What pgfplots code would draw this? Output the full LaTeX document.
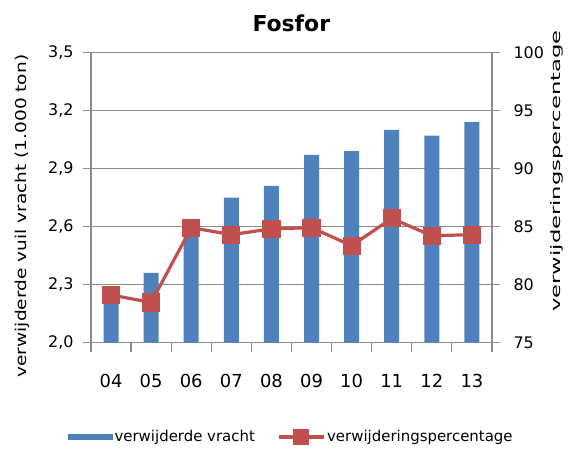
\documentclass[border=0pt]{standalone}
\usepackage{pgfplots}
\pgfplotsset{compat=1.18}
\usepackage{fontspec}
\setmainfont{DejaVu Sans}
\definecolor{barblue}{HTML}{4F81BD}
\definecolor{linered}{HTML}{C0504D}
\definecolor{gridgray}{HTML}{8C8C8C}
\begin{document}
\begin{tikzpicture}
\useasboundingbox (-91bp,-107.5bp) rectangle (483bp,342.5bp);
\begin{axis}[
  at={(0,0)}, anchor=south west,
  scale only axis, width=401bp, height=290bp,
  clip=false,
  xmin=-0.5, xmax=9.5, ymin=2, ymax=3.5,
  ytick={2,2.3,2.6,2.9,3.2,3.5},
  /pgf/number format/.cd, use comma, fixed, fixed zerofill, precision=1, assume math mode=true,
  /pgfplots/.cd,
  xtick={0,1,2,3,4,5,6,7,8,9},
  xticklabels={04,05,06,07,08,09,10,11,12,13},
  x tick style={draw=none},
  extra x ticks={-0.5,0.5,1.5,2.5,3.5,4.5,5.5,6.5,7.5,8.5,9.5},
  extra x tick labels={},
  extra x tick style={x tick style={draw=gridgray, line width=1.2bp}, major tick length=9bp},
  xtick pos=bottom, ytick pos=left,
  tick align=outside, major tick length=8bp,
  axis line style={gridgray, line width=1.2bp},
  y tick style={gridgray, line width=1.2bp},
  ymajorgrids, grid style={gridgray, line width=1.2bp},
  xticklabel style={font=\fontsize{18}{18}\selectfont, text=black, yshift=-20bp},
  yticklabel style={font=\fontsize{16}{16}\selectfont, text=black, xshift=-6bp},
  legend style={at={(axis description cs:0.499,-0.326)}, anchor=center, draw=none,
    legend columns=2, font=\fontsize{15}{15}\selectfont,
    /tikz/every even column/.append style={column sep=20bp}},
  legend cell align=left,
]
\addplot[ybar, bar width=15bp, fill=barblue, draw=none,
  legend image code/.code={\fill[barblue] (-6bp,-3bp) rectangle (39bp,3bp);}]
  coordinates {(0,2.29) (1,2.36) (2,2.58) (3,2.75) (4,2.81) (5,2.97) (6,2.99) (7,3.10) (8,3.07) (9,3.14)};
\addlegendentry{verwijderde vracht}
\addlegendimage{legend image code/.code={\draw[linered, line width=3.2bp] (0bp,0bp) -- (45bp,0bp); \fill[linered] (15bp,-7.5bp) rectangle (30bp,7.5bp);}}
\addlegendentry{verwijderingspercentage}
\node[font=\bfseries\fontsize{22}{22}\selectfont, anchor=base] at (axis description cs:0.4995,1.0717) {Fosfor};
\node[rotate=90, anchor=center, font=\fontsize{15}{15}\selectfont] at (axis description cs:-0.170,0.436) {\scalebox{1.24}[1]{verwijderde vuil vracht (1.000 ton)}};
\node[rotate=90, anchor=center, font=\fontsize{13}{13}\selectfont] at (axis description cs:1.163,0.591) {\scalebox{1.75}[1]{verwijderingspercentage}};
\end{axis}
\begin{axis}[
  at={(0,0)}, anchor=south west,
  scale only axis, width=401bp, height=290bp,
  xmin=-0.5, xmax=9.5, ymin=75, ymax=100,
  ytick={75,80,85,90,95,100},
  axis x line=none,
  axis y line*=right,
  tick align=outside, major tick length=8bp,
  axis line style={gridgray, line width=1.2bp, -},
  y tick style={gridgray, line width=1.2bp},
  /pgf/number format/assume math mode=true,
  yticklabel style={font=\fontsize{16}{16}\selectfont, text=black, xshift=10bp},
]
\addplot[linered, line width=3.2bp, mark=square*, mark size=7.5bp, mark options={fill=linered, draw=none}]
  coordinates {(0,79.1) (1,78.45) (2,84.9) (3,84.3) (4,84.8) (5,84.9) (6,83.35) (7,85.7) (8,84.2) (9,84.3)};
\end{axis}
\end{tikzpicture}
\end{document}
